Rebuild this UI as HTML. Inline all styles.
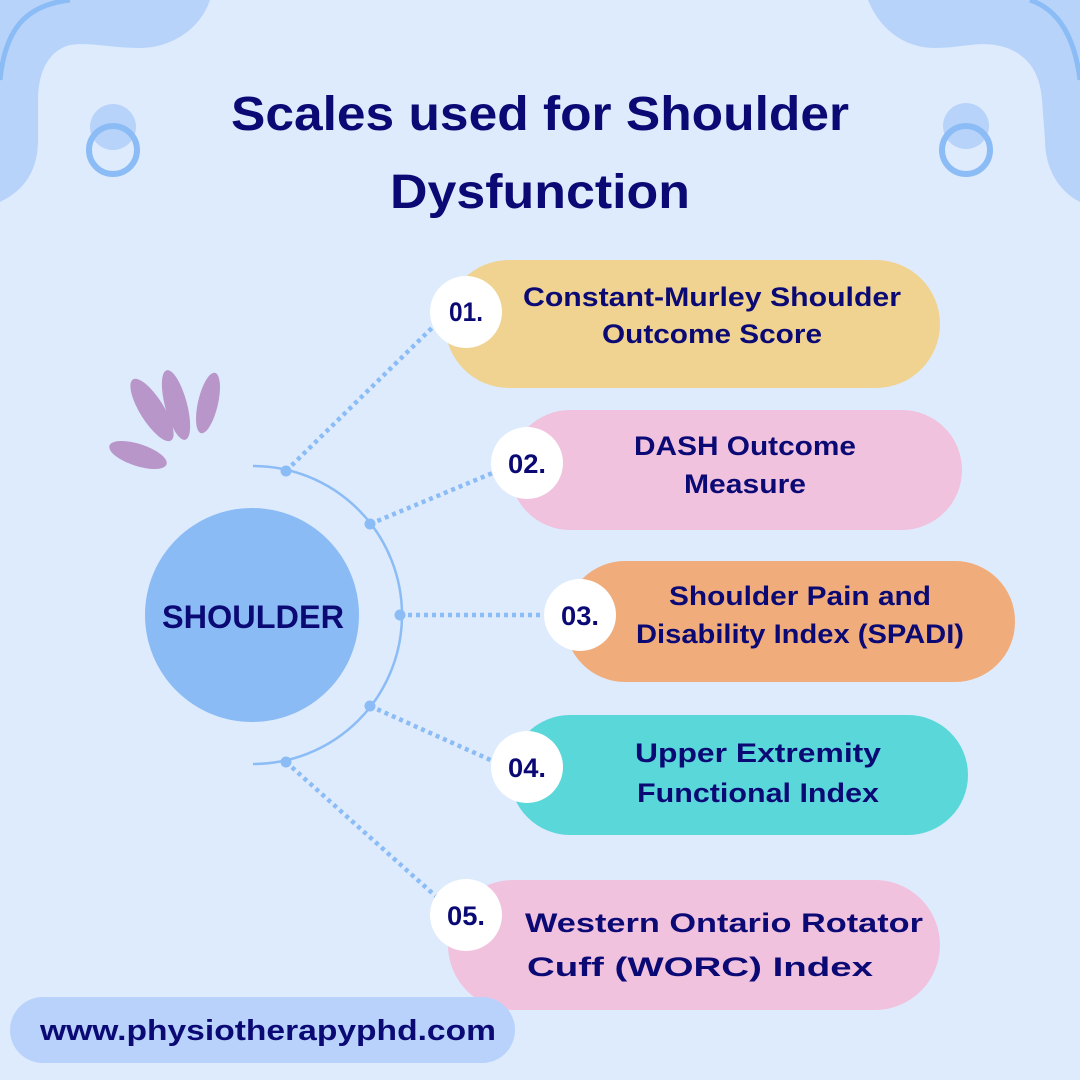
<!DOCTYPE html>
<html><head><meta charset="utf-8"><style>html,body{margin:0;padding:0;background:#deebfd}svg{display:block}</style></head>
<body>
<svg width="1080" height="1080" viewBox="0 0 1080 1080" xmlns="http://www.w3.org/2000/svg" font-family="Liberation Sans, sans-serif" font-weight="bold">
<rect width="1080" height="1080" fill="#deebfd"/>
<!-- top-left blob -->
<path d="M0 0 L210 0 C200 30 170 48 140 48 C110 48 90 42 70 45 C50 50 38 70 38 100 L38 140 C38 170 25 190 0 202 Z" fill="#b8d3fa"/>
<path d="M0 80 C5 30 25 5 70 0" fill="none" stroke="#8bbcf5" stroke-width="5"/>
<!-- top-right blob -->
<path d="M1080 0 L868 0 C880 30 905 48 935 48 C960 48 975 42 995 45 C1025 50 1040 70 1042 100 L1045 140 C1045 170 1060 192 1080 202 Z" fill="#b8d3fa"/>
<path d="M1030 0 C1060 10 1075 40 1080 80" fill="none" stroke="#8bbcf5" stroke-width="5"/>
<!-- small circles -->
<circle cx="113" cy="127" r="23" fill="#b8d3fa"/>
<circle cx="113" cy="150" r="24" fill="none" stroke="#8bbcf5" stroke-width="6"/>
<circle cx="966" cy="126" r="23" fill="#b8d3fa"/>
<circle cx="966" cy="150" r="24" fill="none" stroke="#8bbcf5" stroke-width="6"/>
<!-- title -->
<text x="540" y="130" text-anchor="middle" font-size="48" fill="#0b0a75" textLength="618" lengthAdjust="spacingAndGlyphs">Scales used for Shoulder</text>
<text x="540" y="208" text-anchor="middle" font-size="48" fill="#0b0a75" textLength="300" lengthAdjust="spacingAndGlyphs">Dysfunction</text>
<!-- petals -->
<g fill="#b896c9">
<ellipse cx="138" cy="455" rx="30" ry="11" transform="rotate(18 138 455)"/>
<ellipse cx="152" cy="410" rx="36" ry="12" transform="rotate(58 152 410)"/>
<ellipse cx="176" cy="405" rx="36" ry="11" transform="rotate(75 176 405)"/>
<ellipse cx="208" cy="403" rx="31" ry="10" transform="rotate(103 208 403)"/>
</g>
<!-- arc -->
<path d="M253 466 A149 149 0 0 1 253 764" fill="none" stroke="#8bbcf5" stroke-width="2.5"/>
<g stroke="#8bbcf5" stroke-width="4.5" stroke-dasharray="4 4" fill="none">
<line x1="286" y1="471" x2="440" y2="320"/>
<line x1="370" y1="524" x2="495" y2="472"/>
<line x1="400" y1="615" x2="548" y2="615"/>
<line x1="370" y1="706" x2="495" y2="762"/>
<line x1="286" y1="762" x2="440" y2="900"/>
</g>
<g fill="#8bbcf5">
<circle cx="286" cy="471" r="5.5"/><circle cx="370" cy="524" r="5.5"/><circle cx="400" cy="615" r="5.5"/><circle cx="370" cy="706" r="5.5"/><circle cx="286" cy="762" r="5.5"/>
</g>
<circle cx="252" cy="615" r="107" fill="#8bbbf5"/>
<text x="253" y="628" text-anchor="middle" font-size="32" fill="#0b0a75" textLength="182" lengthAdjust="spacingAndGlyphs">SHOULDER</text>
<!-- pills -->
<rect x="445" y="260" width="495" height="128" rx="64" fill="#f0d391"/>
<rect x="510" y="410" width="452" height="120" rx="60" fill="#f1c2de"/>
<rect x="565" y="561" width="450" height="121" rx="60" fill="#f0ad7b"/>
<rect x="510" y="715" width="458" height="120" rx="60" fill="#5ad7d9"/>
<rect x="448" y="880" width="492" height="130" rx="65" fill="#f1c2de"/>
<g fill="#fff">
<circle cx="466" cy="312" r="36"/><circle cx="527" cy="463" r="36"/><circle cx="580" cy="615" r="36"/><circle cx="527" cy="767" r="36"/><circle cx="466" cy="915" r="36"/>
</g>
<g fill="#0b0a75" font-size="27" text-anchor="middle">
<text x="466" y="321" textLength="34" lengthAdjust="spacingAndGlyphs">01.</text><text x="527" y="473" textLength="38" lengthAdjust="spacingAndGlyphs">02.</text><text x="580" y="625" textLength="38" lengthAdjust="spacingAndGlyphs">03.</text><text x="527" y="777" textLength="38" lengthAdjust="spacingAndGlyphs">04.</text><text x="466" y="925" textLength="38" lengthAdjust="spacingAndGlyphs">05.</text>
</g>
<g fill="#0b0a75" font-size="27" text-anchor="middle">
<text x="712" y="306" textLength="378" lengthAdjust="spacingAndGlyphs">Constant-Murley Shoulder</text>
<text x="712" y="343" textLength="220" lengthAdjust="spacingAndGlyphs">Outcome Score</text>
<text x="745" y="455" textLength="222" lengthAdjust="spacingAndGlyphs">DASH Outcome</text>
<text x="745" y="493" textLength="122" lengthAdjust="spacingAndGlyphs">Measure</text>
<text x="800" y="605" textLength="262" lengthAdjust="spacingAndGlyphs">Shoulder Pain and</text>
<text x="800" y="643" textLength="328" lengthAdjust="spacingAndGlyphs">Disability Index (SPADI)</text>
<text x="758" y="762" textLength="246" lengthAdjust="spacingAndGlyphs">Upper Extremity</text>
<text x="758" y="802" textLength="242" lengthAdjust="spacingAndGlyphs">Functional Index</text>
<text x="724" y="932" textLength="398" lengthAdjust="spacingAndGlyphs">Western Ontario Rotator</text>
<text x="700" y="976" textLength="346" lengthAdjust="spacingAndGlyphs">Cuff (WORC) Index</text>
</g>
<rect x="10" y="997" width="505" height="66" rx="33" fill="#b8d2fb"/>
<text x="268" y="1040" text-anchor="middle" font-size="29" fill="#0b0a75" textLength="456" lengthAdjust="spacingAndGlyphs">www.physiotherapyphd.com</text>
</svg>
</body></html>
